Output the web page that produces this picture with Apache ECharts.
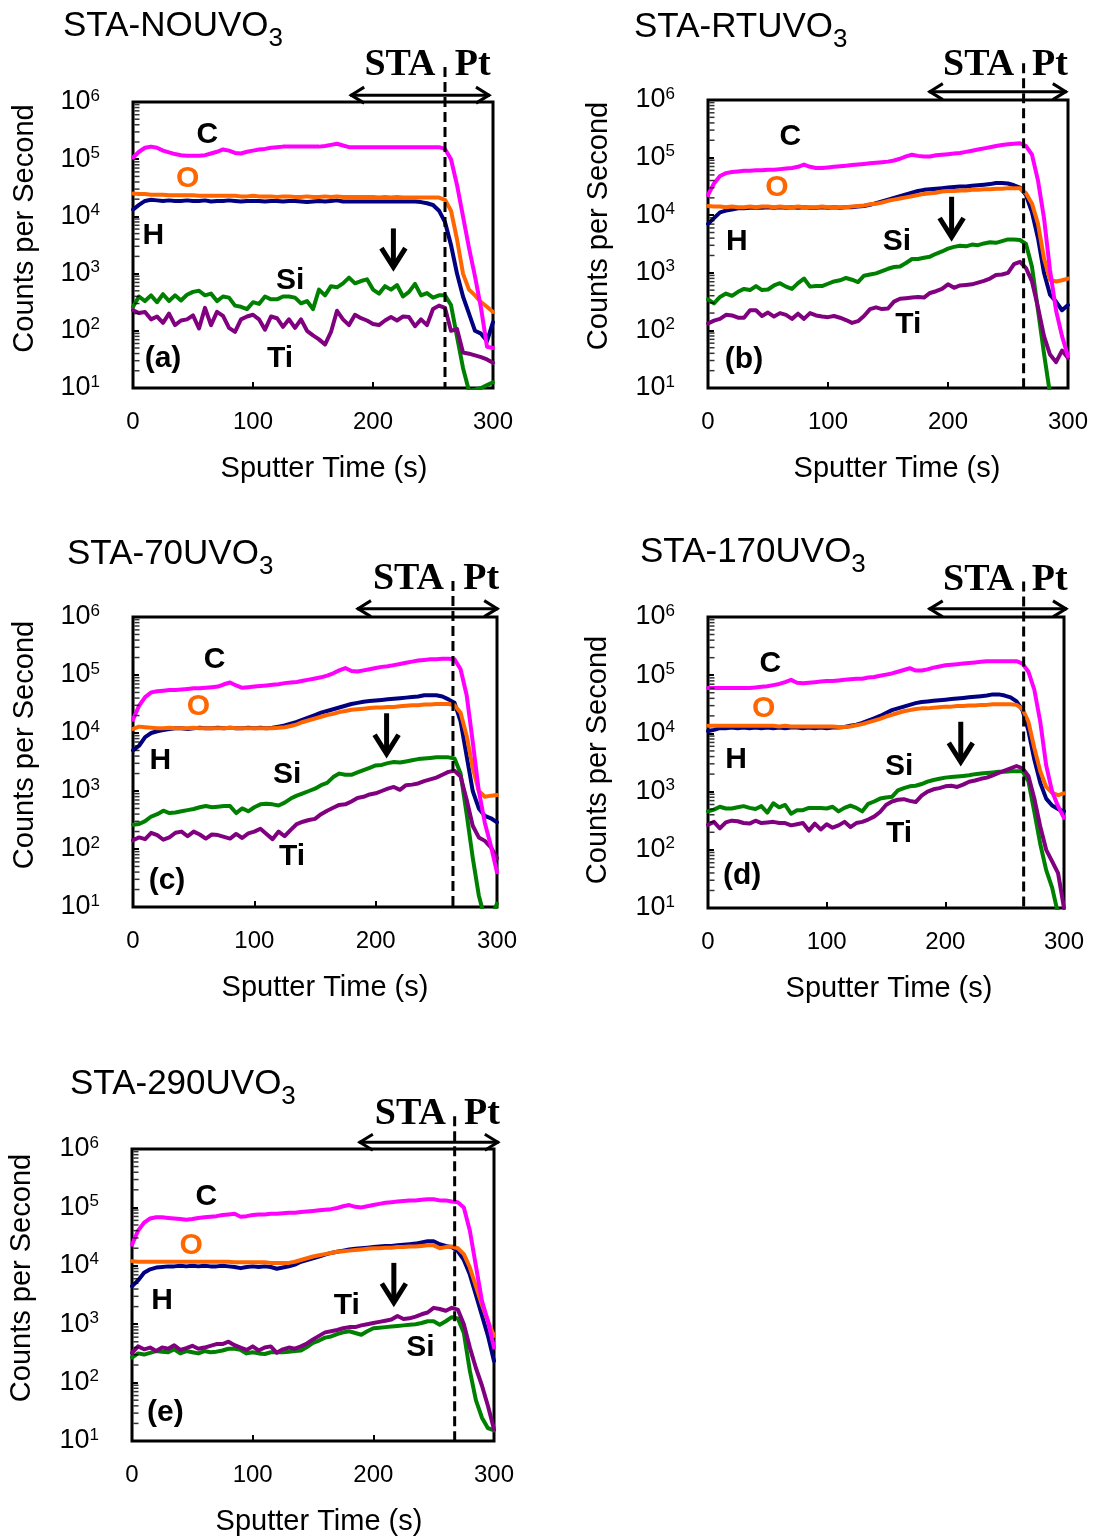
<!DOCTYPE html>
<html><head><meta charset="utf-8">
<script src="https://cdn.jsdelivr.net/npm/echarts@6/dist/echarts.min.js"></script>
<style>html,body{margin:0;padding:0;background:#fff}#c{width:1099px;height:1540px}</style>
</head><body><div id="c"></div>
<script>
// Sputter time (s), shared by all panels
const TIME = [0,5,10,15,20,25,30,35,40,45,50,55,60,65,70,75,80,85,90,95,100,105,110,115,120,125,130,135,140,145,150,155,160,165,170,175,180,185,190,195,200,205,210,215,220,225,230,235,240,245,250,255,260,265,270,275,280,285,290,295,300];
const X_TICKS = [0,100,200,300];
const MINOR_TICKS = [20,30,40,50,60,70,80,90,200,300,400,500,600,700,800,900,2000,3000,4000,5000,6000,7000,8000,9000,20000,30000,40000,50000,60000,70000,80000,90000,200000,300000,400000,500000,600000,700000,800000,900000];
const PANEL_TITLES = ['STA-NOUVO','STA-RTUVO','STA-70UVO','STA-170UVO','STA-290UVO'];
const PANEL_TAGS = ['(a)','(b)','(c)','(d)','(e)'];

// Values are log10(counts per second)
// (a) STA-NOUVO3
const a_C = [5.03,5.13,5.2,5.22,5.2,5.15,5.12,5.09,5.07,5.06, 5.06,5.06,5.07,5.1,5.13,5.17,5.15,5.11,5.1,5.13, 5.15,5.17,5.18,5.2,5.21,5.22,5.22,5.22,5.22,5.22, 5.22,5.22,5.23,5.25,5.27,5.24,5.21,5.21,5.21,5.21, 5.21,5.21,5.21,5.21,5.21,5.21,5.21,5.21,5.21,5.21, 5.21,5.21,5.18,5.0,4.55,4.0,3.45,2.95,2.4,1.72, 1.7];
const a_O = [4.4,4.39,4.39,4.38,4.38,4.38,4.37,4.37,4.37,4.37, 4.37,4.36,4.36,4.36,4.36,4.36,4.36,4.36,4.35,4.35, 4.36,4.35,4.35,4.35,4.34,4.35,4.35,4.34,4.34,4.35, 4.34,4.34,4.35,4.34,4.35,4.34,4.34,4.34,4.34,4.34, 4.34,4.33,4.34,4.33,4.34,4.33,4.33,4.33,4.33,4.33, 4.33,4.33,4.29,4.1,3.6,3.0,2.72,2.62,2.5,2.42, 2.33];
const a_H = [4.12,4.2,4.27,4.29,4.28,4.27,4.28,4.27,4.27,4.28, 4.27,4.27,4.28,4.26,4.27,4.27,4.28,4.27,4.26,4.27, 4.27,4.27,4.26,4.27,4.27,4.26,4.27,4.27,4.26,4.25, 4.26,4.27,4.26,4.27,4.28,4.26,4.26,4.26,4.26,4.26, 4.26,4.26,4.26,4.26,4.26,4.26,4.26,4.26,4.25,4.23, 4.2,4.1,3.9,3.5,3.0,2.6,2.3,2.0,1.95,1.82, 2.15];
const a_Si = [2.42,2.6,2.52,2.62,2.5,2.64,2.52,2.62,2.53,2.63, 2.68,2.7,2.62,2.65,2.52,2.6,2.58,2.44,2.42,2.38, 2.5,2.47,2.6,2.55,2.55,2.6,2.6,2.58,2.48,2.52, 2.38,2.72,2.62,2.78,2.76,2.83,2.93,2.83,2.87,2.9, 2.72,2.65,2.78,2.72,2.8,2.6,2.68,2.82,2.62,2.66, 2.58,2.62,2.62,2.45,1.9,1.35,0.95,0.97,1.0,1.05, 1.1];
const a_Ti = [2.36,2.31,2.33,2.2,2.25,2.14,2.3,2.1,2.18,2.2, 2.27,2.04,2.4,2.1,2.33,2.26,2.05,1.98,2.2,2.25, 2.28,2.2,2.02,2.25,2.22,2.07,2.2,2.05,2.2,2.0, 1.92,1.85,1.76,1.98,2.35,2.2,2.1,2.28,2.22,2.18, 2.12,2.1,2.18,2.24,2.18,2.25,2.24,2.08,2.2,2.1, 2.38,2.44,2.4,2.0,2.03,1.62,1.6,1.57,1.54,1.5, 1.44];
// (b) STA-RTUVO3
const b_C = [4.35,4.55,4.68,4.73,4.75,4.76,4.77,4.77,4.78,4.78, 4.79,4.79,4.8,4.81,4.82,4.84,4.88,4.84,4.82,4.82, 4.83,4.84,4.85,4.86,4.87,4.88,4.89,4.9,4.91,4.92, 4.93,4.95,4.98,5.02,5.05,5.03,5.02,5.02,5.04,5.05, 5.06,5.07,5.08,5.1,5.12,5.14,5.16,5.18,5.2,5.22, 5.23,5.24,5.25,5.2,5.05,4.6,3.95,3.05,2.35,1.9, 1.55];
const b_O = [4.16,4.15,4.15,4.14,4.15,4.14,4.14,4.15,4.14,4.15, 4.15,4.14,4.15,4.14,4.14,4.15,4.14,4.14,4.14,4.15, 4.14,4.14,4.14,4.14,4.15,4.16,4.17,4.19,4.2,4.22, 4.25,4.27,4.29,4.31,4.33,4.35,4.37,4.38,4.39,4.41, 4.42,4.42,4.43,4.43,4.44,4.44,4.45,4.45,4.46,4.46, 4.47,4.47,4.47,4.38,4.2,3.85,3.25,2.88,2.85,2.87, 2.9];
const b_H = [3.85,3.95,4.05,4.08,4.1,4.12,4.12,4.13,4.13,4.13, 4.14,4.13,4.14,4.13,4.14,4.13,4.14,4.13,4.13,4.14, 4.13,4.14,4.13,4.14,4.14,4.15,4.16,4.18,4.21,4.24, 4.27,4.3,4.33,4.36,4.39,4.42,4.44,4.45,4.46,4.47, 4.48,4.49,4.5,4.5,4.51,4.52,4.53,4.54,4.56,4.56, 4.55,4.52,4.48,4.35,4.05,3.6,3.0,2.62,2.5,2.35, 2.44];
const b_Si = [2.54,2.47,2.58,2.64,2.6,2.67,2.72,2.7,2.77,2.7, 2.71,2.78,2.82,2.76,2.72,2.82,2.9,2.76,2.77,2.77, 2.81,2.85,2.87,2.91,2.88,2.84,2.95,2.97,2.99,3.03, 3.07,3.1,3.11,3.17,3.24,3.24,3.26,3.28,3.33,3.37, 3.42,3.45,3.47,3.46,3.49,3.48,3.51,3.53,3.52,3.55, 3.58,3.58,3.57,3.5,3.1,2.35,1.6,0.9,0.7,0.7, 0.7];
const b_Ti = [2.12,2.17,2.2,2.27,2.26,2.22,2.22,2.35,2.35,2.25, 2.31,2.24,2.3,2.27,2.2,2.29,2.2,2.3,2.26,2.24, 2.23,2.25,2.22,2.18,2.13,2.16,2.25,2.37,2.4,2.37, 2.38,2.5,2.55,2.56,2.57,2.58,2.57,2.65,2.68,2.72, 2.8,2.74,2.78,2.79,2.8,2.83,2.86,2.9,2.96,2.97, 3.0,3.15,3.19,3.08,2.85,2.4,1.9,1.58,1.45,1.65, 1.52];
// (c) STA-70UVO3
const c_C = [4.23,4.47,4.62,4.7,4.72,4.73,4.74,4.74,4.75,4.76, 4.77,4.77,4.78,4.79,4.8,4.84,4.87,4.82,4.78,4.79, 4.8,4.81,4.82,4.83,4.84,4.86,4.87,4.88,4.9,4.92, 4.94,4.96,4.99,5.03,5.08,5.12,5.07,5.06,5.08,5.1, 5.12,5.14,5.15,5.17,5.19,5.21,5.23,5.25,5.26,5.27, 5.27,5.28,5.28,5.27,5.1,4.65,3.85,3.0,2.45,2.05, 1.6];
const c_O = [4.07,4.11,4.1,4.09,4.08,4.08,4.09,4.08,4.08,4.08, 4.09,4.08,4.08,4.08,4.08,4.08,4.09,4.08,4.08,4.08, 4.08,4.08,4.08,4.08,4.09,4.1,4.12,4.15,4.19,4.22, 4.25,4.28,4.31,4.33,4.36,4.38,4.4,4.41,4.42,4.43, 4.44,4.44,4.45,4.45,4.46,4.47,4.48,4.48,4.49,4.49, 4.5,4.5,4.5,4.48,4.35,3.95,3.4,3.0,2.9,2.92, 2.93];
const c_H = [3.7,3.78,3.93,4.0,4.03,4.05,4.07,4.08,4.08,4.07, 4.08,4.09,4.08,4.08,4.09,4.08,4.09,4.08,4.08,4.09, 4.08,4.09,4.08,4.09,4.11,4.13,4.16,4.19,4.23,4.27, 4.31,4.35,4.38,4.41,4.44,4.47,4.5,4.52,4.54,4.55, 4.56,4.57,4.58,4.59,4.6,4.61,4.62,4.63,4.65,4.65, 4.65,4.63,4.58,4.52,4.2,3.6,3.0,2.7,2.57,2.53, 2.46];
const c_Si = [2.42,2.43,2.48,2.56,2.6,2.66,2.62,2.63,2.65,2.67, 2.69,2.72,2.74,2.72,2.73,2.74,2.74,2.62,2.7,2.65, 2.72,2.77,2.78,2.77,2.75,2.8,2.87,2.92,2.96,3.0, 3.04,3.1,3.14,3.24,3.3,3.28,3.28,3.32,3.36,3.4, 3.44,3.45,3.48,3.5,3.49,3.51,3.53,3.55,3.56,3.57, 3.58,3.58,3.58,3.56,3.3,2.6,1.85,1.2,0.8,0.8, 1.06];
const c_Ti = [2.15,2.2,2.17,2.28,2.24,2.16,2.2,2.28,2.3,2.22, 2.3,2.25,2.18,2.25,2.24,2.21,2.18,2.26,2.19,2.27, 2.3,2.35,2.26,2.17,2.3,2.22,2.33,2.43,2.47,2.5, 2.52,2.6,2.66,2.71,2.76,2.77,2.82,2.88,2.9,2.94, 2.96,3.0,3.04,3.07,3.02,3.1,3.11,3.13,3.17,3.2, 3.23,3.28,3.33,3.35,3.25,2.85,2.4,2.2,2.14,2.03, 1.84];
// (d) STA-170UVO3
const d_C = [4.78,4.78,4.78,4.78,4.78,4.78,4.78,4.78,4.79,4.8, 4.81,4.83,4.85,4.88,4.92,4.87,4.86,4.87,4.88,4.89, 4.9,4.9,4.91,4.92,4.93,4.94,4.94,4.96,4.97,4.99, 5.01,5.03,5.06,5.09,5.12,5.08,5.08,5.1,5.13,5.15, 5.17,5.18,5.19,5.2,5.21,5.22,5.23,5.24,5.24,5.24, 5.24,5.24,5.24,5.2,5.06,4.75,4.2,3.45,3.0,2.75, 2.55];
const d_O = [4.13,4.13,4.13,4.13,4.13,4.13,4.13,4.13,4.13,4.13, 4.13,4.13,4.12,4.13,4.12,4.12,4.12,4.12,4.12,4.12, 4.12,4.12,4.11,4.11,4.12,4.14,4.16,4.19,4.22,4.25, 4.29,4.32,4.35,4.38,4.4,4.42,4.43,4.43,4.44,4.45, 4.46,4.46,4.47,4.47,4.48,4.48,4.49,4.49,4.5,4.5, 4.5,4.5,4.49,4.42,4.2,3.75,3.35,3.08,2.98,2.94, 2.97];
const d_H = [4.04,4.06,4.09,4.09,4.1,4.09,4.1,4.09,4.1,4.09, 4.1,4.09,4.1,4.09,4.1,4.1,4.09,4.1,4.09,4.1, 4.09,4.1,4.1,4.11,4.13,4.15,4.18,4.22,4.26,4.3, 4.35,4.4,4.43,4.46,4.49,4.52,4.54,4.55,4.56,4.57, 4.58,4.59,4.6,4.61,4.62,4.63,4.64,4.65,4.67,4.67, 4.65,4.62,4.55,4.4,4.05,3.55,3.15,2.88,2.76,2.7, 2.66];
const d_Si = [2.66,2.69,2.74,2.71,2.71,2.73,2.75,2.72,2.7,2.75, 2.64,2.8,2.73,2.77,2.62,2.68,2.68,2.72,2.72,2.72, 2.71,2.74,2.66,2.72,2.76,2.72,2.66,2.79,2.83,2.88, 2.9,2.91,3.02,3.06,3.09,3.1,3.13,3.17,3.2,3.22, 3.24,3.25,3.26,3.27,3.28,3.3,3.31,3.32,3.33,3.34, 3.34,3.35,3.35,3.35,3.18,2.65,2.1,1.65,1.35,0.9, 0.9];
const d_Ti = [2.43,2.48,2.37,2.47,2.5,2.49,2.46,2.45,2.5,2.46, 2.47,2.48,2.46,2.46,2.42,2.44,2.46,2.33,2.45,2.35, 2.44,2.38,2.42,2.48,2.39,2.46,2.48,2.52,2.57,2.65, 2.77,2.83,2.86,2.87,2.84,2.82,2.93,3.0,3.04,3.06, 3.09,3.1,3.08,3.12,3.17,3.19,3.22,3.24,3.28,3.32, 3.36,3.4,3.44,3.4,3.27,2.88,2.4,2.0,1.8,1.6, 1.0];
// (e) STA-290UVO3
const e_C = [4.36,4.6,4.74,4.81,4.83,4.83,4.82,4.81,4.8,4.79, 4.8,4.82,4.83,4.84,4.85,4.87,4.88,4.89,4.84,4.85, 4.87,4.88,4.88,4.89,4.89,4.9,4.91,4.91,4.92,4.93, 4.94,4.95,4.96,4.97,4.99,5.02,5.04,5.01,5.0,5.02, 5.04,5.06,5.08,5.09,5.1,5.11,5.12,5.12,5.13,5.14, 5.14,5.12,5.12,5.1,5.09,5.0,4.6,4.0,3.4,3.05, 2.6];
const e_O = [4.08,4.07,4.07,4.07,4.07,4.07,4.07,4.07,4.07,4.07, 4.07,4.07,4.07,4.07,4.07,4.07,4.07,4.06,4.06,4.06, 4.06,4.06,4.06,4.05,4.05,4.05,4.05,4.07,4.1,4.13, 4.16,4.18,4.2,4.22,4.24,4.25,4.26,4.27,4.28,4.29, 4.3,4.3,4.31,4.31,4.32,4.32,4.33,4.33,4.34,4.35, 4.35,4.3,4.32,4.33,4.3,4.2,3.97,3.65,3.33,3.05, 2.8];
const e_H = [3.65,3.75,3.88,3.94,3.97,3.98,3.99,3.99,4.0,3.99, 4.0,3.99,4.0,3.99,3.99,4.0,3.99,3.98,3.96,3.98, 3.99,3.98,3.99,3.98,3.95,3.97,3.99,4.02,4.07,4.1, 4.13,4.16,4.19,4.22,4.24,4.26,4.28,4.29,4.3,4.31, 4.32,4.33,4.34,4.34,4.35,4.36,4.37,4.38,4.4,4.42, 4.42,4.37,4.34,4.32,4.25,4.1,3.85,3.5,3.15,2.8, 2.37];
const e_Si = [2.43,2.5,2.48,2.51,2.54,2.53,2.52,2.57,2.5,2.54, 2.52,2.5,2.54,2.52,2.53,2.55,2.58,2.58,2.56,2.5, 2.52,2.5,2.49,2.52,2.52,2.52,2.53,2.54,2.55,2.61, 2.68,2.72,2.77,2.79,2.83,2.86,2.88,2.85,2.82,2.88, 2.93,2.94,2.95,2.96,2.97,2.98,2.99,3.0,3.02,3.05, 3.05,2.99,3.05,3.12,3.1,2.85,2.2,1.7,1.4,1.22, 1.18];
const e_Ti = [2.51,2.62,2.57,2.6,2.54,2.6,2.58,2.64,2.56,2.59, 2.63,2.58,2.6,2.63,2.66,2.66,2.7,2.64,2.6,2.56, 2.62,2.55,2.6,2.62,2.51,2.57,2.6,2.58,2.62,2.67, 2.74,2.8,2.86,2.88,2.9,2.93,2.95,2.95,2.98,3.0, 3.02,3.04,3.06,3.08,3.14,3.09,3.1,3.13,3.17,3.2, 3.28,3.26,3.23,3.28,3.25,3.0,2.6,2.25,1.95,1.6, 1.2];

const PANEL_DATA = [
  {C:a_C, O:a_O, H:a_H, Si:a_Si, Ti:a_Ti},
  {C:b_C, O:b_O, H:b_H, Si:b_Si, Ti:b_Ti},
  {C:c_C, O:c_O, H:c_H, Si:c_Si, Ti:c_Ti},
  {C:d_C, O:d_O, H:d_H, Si:d_Si, Ti:d_Ti},
  {C:e_C, O:e_O, H:e_H, Si:e_Si, Ti:e_Ti}
];

// ---------- layout & styling (not data) ----------
const F = '"Liberation Sans", Arial, Helvetica, sans-serif';
const FS = '"Liberation Serif", "Times New Roman", serif';
const COLORS = {C:'#FF00FF', O:'#FF6600', H:'#000080', Si:'#008000', Ti:'#800080'};
const ORDER = ['H','O','Si','Ti','C'];
const LAYOUT = [
  {grid:{left:133, top:102, width:360, height:286}, title:{left:63, top:0},    xPad:22, yPad:33, yGap:95},
  {grid:{left:708, top:100, width:360, height:288}, title:{left:634, top:1},   xPad:18, yPad:36, yGap:96},
  {grid:{left:133, top:617, width:364, height:290}, title:{left:67, top:528},  xPad:20, yPad:34, yGap:95},
  {grid:{left:708, top:617, width:356, height:291}, title:{left:640, top:526}, xPad:6,  yPad:5,  yGap:97},
  {grid:{left:132, top:1149, width:362, height:292}, title:{left:70, top:1058},xPad:12, yPad:34, yGap:97}
];
// annotation anchors in data space: [time, log10 value]
const ANN = [
  {labels:[['C',62,5.43],['O',45.5,4.66],['H',17,3.67],['Si',131,2.88],['Ti',122.5,1.51]], tag:[25,1.51],
   sta:[222.5,6.64], pt:[283,6.64], dbl:[181,297.5,6.12], dash:[260,6.61], down:[217,3.79,3.06]},
  {labels:[['C',68.6,5.36],['O',57.5,4.47],['H',24,3.54],['Si',157.5,3.54],['Ti',167,2.09]], tag:[30,1.49],
   sta:[225.5,6.61], pt:[285,6.61], dbl:[184,299,6.145], dash:[263,6.64], down:[203,4.32,3.57]},
  {labels:[['C',67.3,5.26],['O',54,4.46],['H',22.5,3.53],['Si',127,3.28],['Ti',131,1.86]], tag:[28,1.46],
   sta:[227,6.65], pt:[287,6.65], dbl:[184.6,301,6.144], dash:[263.7,6.62], down:[209,4.34,3.59]},
  {labels:[['C',52.5,5.19],['O',47,4.43],['H',23.6,3.54],['Si',161,3.43],['Ti',161,2.28]], tag:[28.7,1.56],
   sta:[228,6.64], pt:[288,6.64], dbl:[186,302.5,6.14], dash:[266,6.61], down:[213,4.2,3.46]},
  {labels:[['C',61.6,5.19],['O',49,4.35],['H',25,3.41],['Ti',178,3.32],['Si',239,2.6]], tag:[27.6,1.48],
   sta:[230.7,6.59], pt:[290,6.59], dbl:[188,304,6.114], dash:[267.4,6.56], down:[217,4.05,3.32]}
];

function annotRenderer(ann, tag) {
  return function (params, api) {
    const P = (t, lv) => api.coord([t, Math.pow(10, lv)]);
    const ch = [];
    const blk = '#000';
    const d0 = P(ann.dash[0], ann.dash[1]), d1 = P(ann.dash[0], 1);
    ch.push({type:'line', shape:{x1:d0[0], y1:d0[1], x2:d1[0], y2:d1[1]},
      style:{stroke:blk, lineWidth:3, lineDash:[10,5], fill:'none'}});
    const l = P(ann.dbl[0], ann.dbl[2]), r = P(ann.dbl[1], ann.dbl[2]);
    ch.push({type:'line', shape:{x1:l[0], y1:l[1], x2:r[0], y2:r[1]}, style:{stroke:blk, lineWidth:3, fill:'none'}});
    ch.push({type:'polyline', shape:{points:[[l[0]+14,l[1]-8],[l[0]+1,l[1]],[l[0]+14,l[1]+8]]},
      style:{stroke:blk, lineWidth:3, fill:'none', lineJoin:'miter'}});
    ch.push({type:'polyline', shape:{points:[[r[0]-14,r[1]-8],[r[0]-1,r[1]],[r[0]-14,r[1]+8]]},
      style:{stroke:blk, lineWidth:3, fill:'none', lineJoin:'miter'}});
    const a0 = P(ann.down[0], ann.down[1]), a1 = P(ann.down[0], ann.down[2]);
    ch.push({type:'line', shape:{x1:a0[0], y1:a0[1], x2:a1[0], y2:a1[1]-4}, style:{stroke:blk, lineWidth:5, fill:'none'}});
    ch.push({type:'polyline', shape:{points:[[a1[0]-12,a1[1]-22],[a1[0],a1[1]-3],[a1[0]+12,a1[1]-22]]},
      style:{stroke:blk, lineWidth:5, fill:'none', lineJoin:'miter'}});
    const txt = (s, p, color, size, fam) => ({type:'text', x:p[0], y:p[1],
      style:{text:s, fill:color, fontSize:size, fontWeight:'bold', fontFamily:fam, align:'center', verticalAlign:'middle'}});
    ann.labels.forEach(([s, t, lv]) => ch.push(txt(s, P(t, lv), s === 'O' ? COLORS.O : blk, 30, F)));
    ch.push(txt(tag, P(ann.tag[0], ann.tag[1]), blk, 30, F));
    ch.push(txt('STA', P(ann.sta[0], ann.sta[1]), blk, 38, FS));
    ch.push(txt('Pt', P(ann.pt[0], ann.pt[1]), blk, 38, FS));
    return {type:'group', children:ch};
  };
}

const option = {backgroundColor:'#fff', animation:false, title:[], grid:[], xAxis:[], yAxis:[], series:[]};

LAYOUT.forEach((L, i) => {
  option.title.push({
    text: PANEL_TITLES[i] + '{sub|3}', left: L.title.left, top: L.title.top, padding: 0,
    textStyle: {fontSize:35, fontWeight:'normal', fontFamily:F, color:'#000', lineHeight:50,
      rich: {sub: {fontSize:26, fontFamily:F, color:'#000', verticalAlign:'bottom', lineHeight:52}}}
  });
  option.grid.push(Object.assign({show:true, borderColor:'#000', borderWidth:3, backgroundColor:'transparent',
    containLabel:false, outerBoundsMode:'none'}, L.grid));
  option.xAxis.push({
    gridIndex:i, type:'value', min:X_TICKS[0], max:X_TICKS[X_TICKS.length-1], interval:100,
    axisLine:{show:false}, splitLine:{show:false},
    axisTick:{show:true, inside:true, length:6, lineStyle:{color:'#000', width:2}},
    axisLabel:{fontSize:24, color:'#000', fontFamily:F, margin:22, showMinLabel:true, showMaxLabel:true},
    name:'Sputter Time (s)', nameLocation:'middle', nameGap:66,
    nameTextStyle:{fontSize:29, color:'#000', fontFamily:F, padding:[0,0,0,L.xPad]}
  });
  option.yAxis.push({
    gridIndex:i, type:'log', logBase:10, min:10, max:1e6, splitNumber:5,
    axisLine:{show:false}, splitLine:{show:false},
    axisTick:{show:true, inside:true, length:6, lineStyle:{color:'#000', width:2}},
    axisLabel:{fontSize:27, color:'#000', fontFamily:F, margin:33, lineHeight:29,
      showMinLabel:true, showMaxLabel:true,
      formatter: v => '10{sup|' + Math.round(Math.log10(v)) + '}',
      rich:{sup:{fontSize:17, color:'#000', fontFamily:F, verticalAlign:'top', lineHeight:17}}},
    name:'Counts per Second', nameLocation:'middle', nameGap:L.yGap - 1,
    nameTextStyle:{fontSize:29, color:'#000', fontFamily:F, padding:[0,0,0,L.yPad]}
  });
  // minor log ticks on the left axis
  option.series.push({
    type:'scatter', xAxisIndex:i, yAxisIndex:i, silent:true, clip:false, z:3,
    symbol:'rect', symbolSize:[5,1.5], symbolOffset:[4,0], itemStyle:{color:'#000'},
    data: MINOR_TICKS.map(v => [0, v])
  });
  ORDER.forEach(k => {
    const vals = PANEL_DATA[i][k];
    option.series.push({
      name:k, type:'line', xAxisIndex:i, yAxisIndex:i, symbol:'none', clip:true, z:2,
      lineStyle:{color:COLORS[k], width:4, cap:'round', join:'round'},
      itemStyle:{color:COLORS[k]},
      data: TIME.map((t, j) => [t, Math.pow(10, vals[j])])
    });
  });
  option.series.push({
    type:'custom', xAxisIndex:i, yAxisIndex:i, silent:true, z:10, clip:false,
    renderItem: annotRenderer(ANN[i], PANEL_TAGS[i]),
    data:[[0, 10]]
  });
});

const chart = echarts.init(document.getElementById('c'), null, {renderer:'canvas'});
chart.setOption(option);
</script>
</body></html>
